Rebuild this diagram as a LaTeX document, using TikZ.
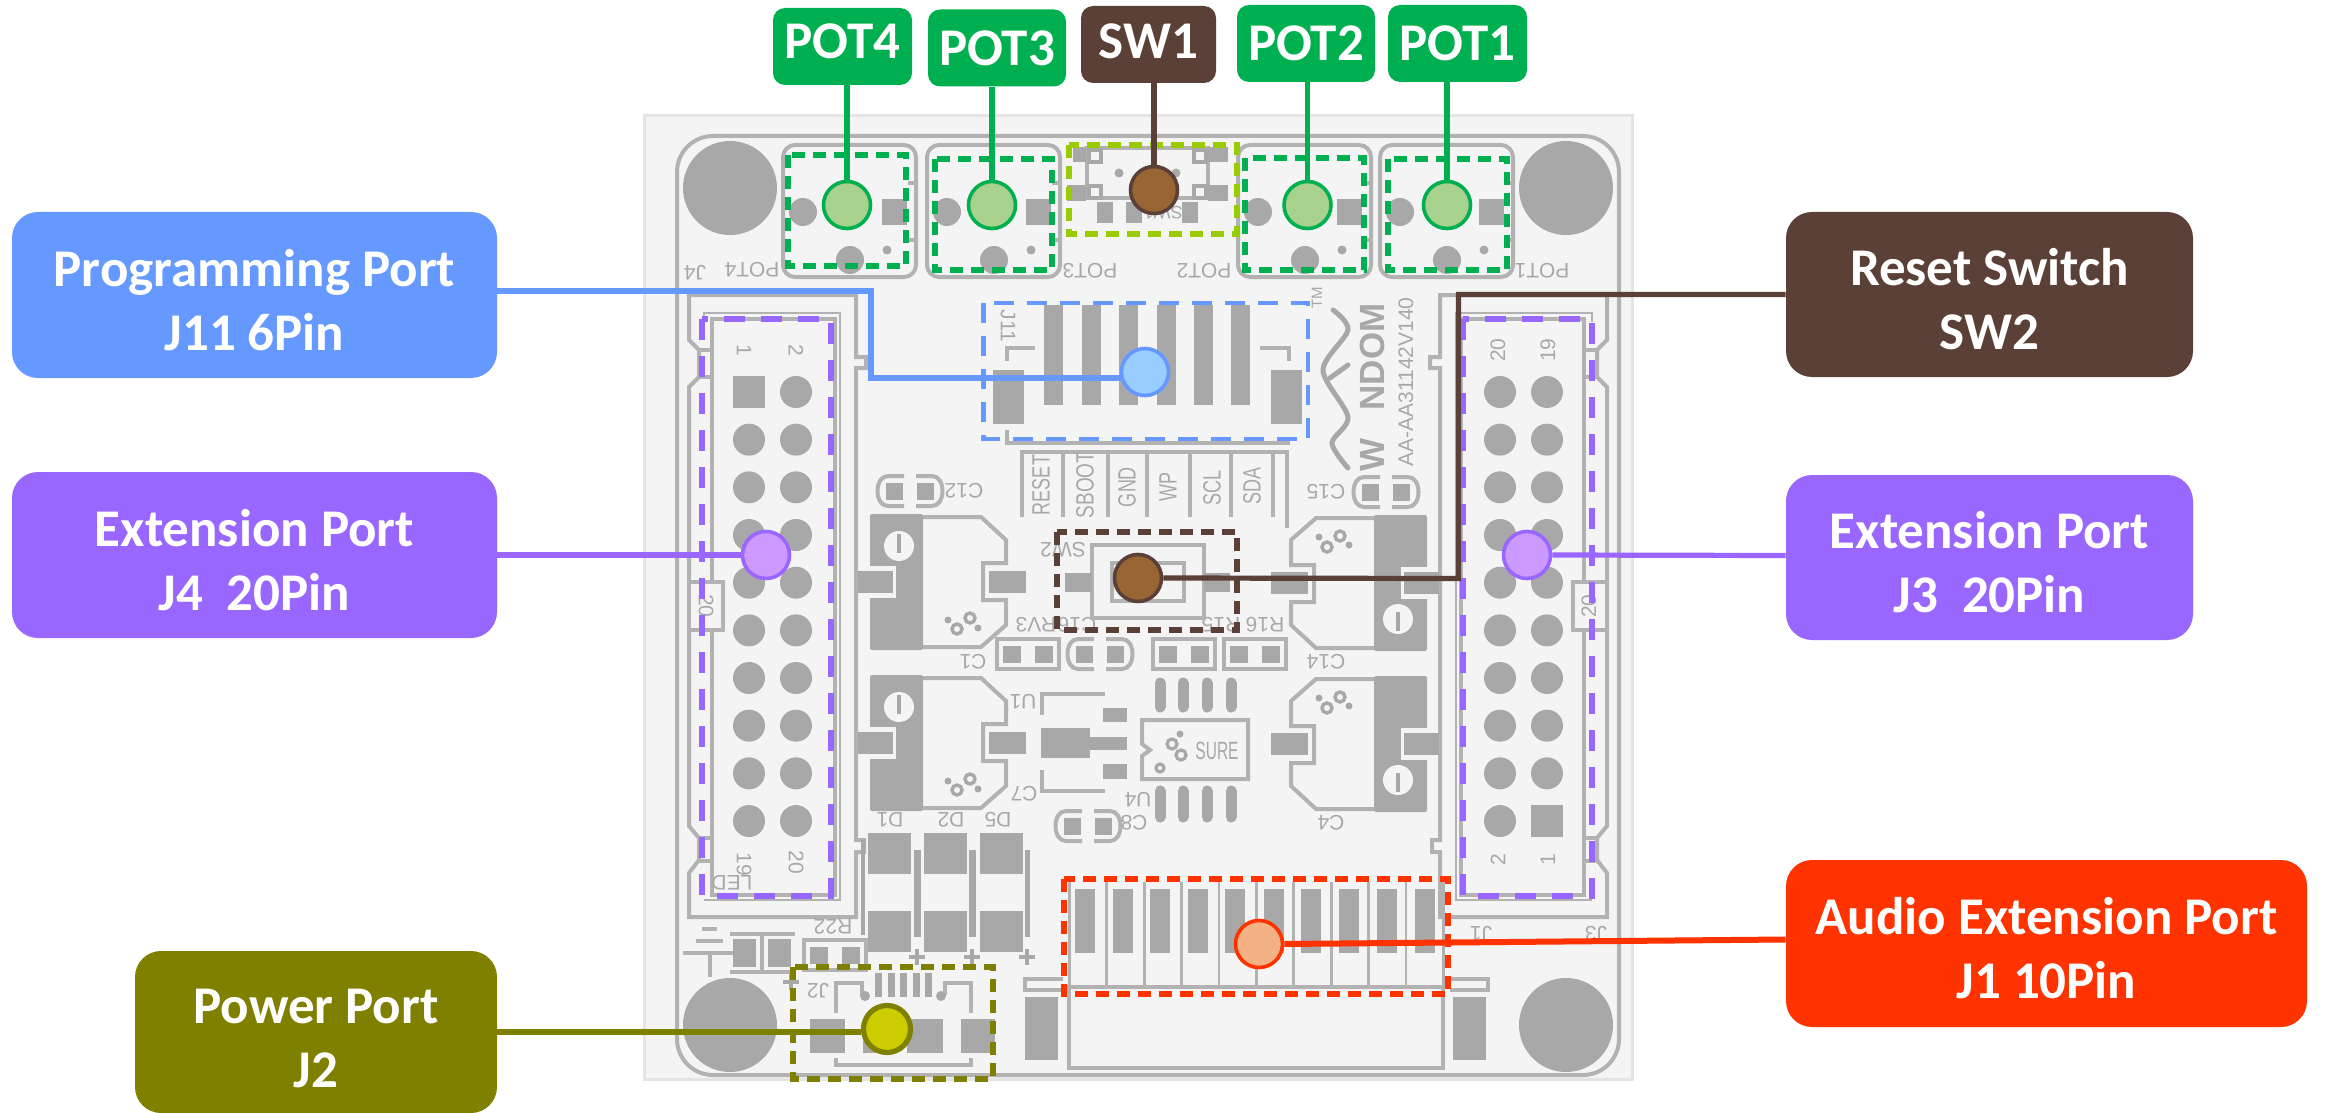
\documentclass[tikz,border=0pt]{standalone}
\usepackage{graphicx}
\usepackage{fontspec}
\setmainfont{Carlito}
\newfontfamily\silkf{Liberation Sans}
\definecolor{bgc}{HTML}{F4F4F4}
\definecolor{pcb}{HTML}{A8A8A8}
\definecolor{pcbl}{HTML}{B2B2B2}
\definecolor{brd}{HTML}{E4E4E4}
\definecolor{cgreen}{HTML}{00B050}
\definecolor{cbrown}{HTML}{5B4038}
\definecolor{cblue}{HTML}{6699FF}
\definecolor{cpurp}{HTML}{9966FF}
\definecolor{cred}{HTML}{FF3300}
\definecolor{colive}{HTML}{808000}
\definecolor{clime}{HTML}{99CC00}
\definecolor{dgreenf}{HTML}{A9D18E}
\definecolor{dbrownf}{HTML}{996633}
\definecolor{dbluef}{HTML}{99CCFF}
\definecolor{dpurpf}{HTML}{CC99FF}
\definecolor{dredf}{HTML}{F4B183}
\definecolor{dyelf}{HTML}{CCCC00}
\newcounter{sk}
\newcommand\Up{\rule{0pt}{23.5pt}}
\tikzset{
  x=0.5pt,y=-0.5pt,
  lab/.style={rounded corners=13pt,text=white,inner sep=0pt,align=center,anchor=center,
    font=\fontsize{26.5}{32}\selectfont\bfseries},
  lline/.style={pcbl,line width=2pt},
  tline/.style={pcbl,line width=1.4pt},
  silk/.style={text=pcb,inner sep=0pt,font=\silkf\fontsize{10.5}{10.5}\selectfont},
  strip/.style={font=\silkf\fontsize{12.5}{12.5}\selectfont},
  dbox/.style={dash pattern=on 6.5pt off 4pt,line width=2.7pt},
  dlong/.style={dash pattern=on 10.5pt off 8pt,line width=2.7pt},
  dotn/.style={circle,minimum size=23.5pt,inner sep=0pt,line width=1.8pt},
  conn/.style={line width=2.6pt},
  tlab/.style={lab,rounded corners=6pt,minimum height=38.5pt},
  dgreen/.style={dotn,draw=cgreen,fill=dgreenf},
}
\newcommand\Sk[5][]{\stepcounter{sk}\node[silk,rotate=#4,name=silk\arabic{sk},#1] at (#2,#3) {#5};}
\newcommand\BCap[2]{%
 \fill[pcb] ({#1-24},{#2-8.5}) rectangle ({#1-7},{#2+8.5});
 \fill[pcb] ({#1+7},{#2-8.5}) rectangle ({#1+24},{#2+8.5});
 \draw[lline] ({#1-6},{#2-15}) -- ({#1-22},{#2-15}) .. controls ({#1-36},{#2-15}) and ({#1-36},{#2+15}) .. ({#1-22},{#2+15}) -- ({#1-6},{#2+15});
 \draw[lline] ({#1+6},{#2-15}) -- ({#1+22},{#2-15}) .. controls ({#1+36},{#2-15}) and ({#1+36},{#2+15}) .. ({#1+22},{#2+15}) -- ({#1+6},{#2+15});
}
\newcommand\BRes[2]{%
 \draw[lline] ({#1-31},{#2-15}) rectangle ({#1+31},{#2+15});
 \fill[pcb] ({#1-25},{#2-8.5}) rectangle ({#1-7},{#2+8.5});
 \fill[pcb] ({#1+7},{#2-8.5}) rectangle ({#1+25},{#2+8.5});
}
\newcommand\BReg{%
 \fill[pcb,rounded corners=1pt] (870,514) rectangle (923,650);
 \fill[bgc] (868,566) rectangle (896,598);
 \fill[pcb] (858,571) rectangle (893,593);
 \fill[pcb] (989,571) rectangle (1026,593);
 \draw[lline] (923,517) -- (981,517) -- (1006,540) -- (1006,563) -- (983,563) -- (983,600) -- (1006,600) -- (1006,625) -- (981,647) -- (923,647);
 \fill[bgc] (899,546) circle (15);
 \fill[pcb] (897,534) rectangle (901,553);
 \draw[pcb,line width=1.7pt] (970,618) circle (5);
 \draw[pcb,line width=1.7pt] (957,629) circle (5);
 \fill[pcb] (948,620) circle (3.5);
 \fill[pcb] (978,628) circle (3.5);
}
\newcommand\BShell{%
 \draw[lline] (689,295) -- (689,340) -- (699,350) -- (699,377) -- (689,387) -- (689,826) -- (699,838) -- (699,860) -- (689,873) -- (689,917) -- (856,917) -- (856,852) -- (864,852) -- (864,840) -- (856,840) -- (856,368) -- (866,368) -- (866,357) -- (856,357) -- (856,295) -- cycle;
 \draw[lline] (712,319) rectangle (835,895);
 \draw[tline] (704,322) |- (840,313) -- (840,900) -- (704,900);
 \draw[lline] (699,350) -- (712,350) (699,377) -- (712,377) (699,838) -- (712,838) (699,861) -- (712,861);
 \filldraw[fill=bgc,draw=pcbl,line width=2pt] (689,582) rectangle (723,630);
 \foreach \i in {0,...,9} {
   \fill[pcb] (749,{392+47.67*\i}) circle (16);
   \fill[pcb] (796,{392+47.67*\i}) circle (16);
 }
}
\begin{document}
\begin{tikzpicture}
\useasboundingbox (0,0) rectangle (2326,1113);
\fill[white] (0,0) rectangle (2326,1113);
% board
\filldraw[fill=bgc,draw=brd,line width=1.5pt] (644,116) rectangle (1632,1079);
\draw[lline,rounded corners=18pt] (677,136) rectangle (1619,1075);
\foreach \x in {730,1566} \foreach \y in {188,1025} \fill[pcb] (\x,\y) circle (47);
% pots
\foreach \d in {0,144,455,597} {
  \draw[lline,rounded corners=6pt] ({783+\d},145) rectangle ({916+\d},277);
  \fill[pcb] ({803+\d},212) circle (14);
  \fill[pcb] ({882+\d},199) rectangle ({907+\d},225);
  \fill[pcb] ({850+\d},260) circle (14);
  \fill[pcb] ({887+\d},250) circle (4.5);
  \draw[lline] ({908+\d},183) -- ({916+\d},183);
  \draw[lline] ({908+\d},240) -- ({916+\d},240);
}
\Sk{752}{270}{180}{POT4}
\Sk{695}{273}{180}{J4}
\Sk{1090}{271}{180}{POT3}
\Sk{1204}{271}{180}{POT2}
\Sk{1542}{271}{180}{POT1}
% SW1 footprint
\draw[lline] (1087,148) rectangle (1208,198);
\fill[pcb] (1073,147) rectangle (1086,162);
\fill[pcb] (1208,147) rectangle (1228,162);
\fill[pcb] (1067,185) rectangle (1086,201);
\fill[pcb] (1208,185) rectangle (1228,201);
\foreach \x/\y in {1095/156,1200/156,1095/192,1200/192} \filldraw[fill=bgc,draw=pcb,line width=1.6pt] ({\x-6},{\y-6}) rectangle ({\x+6},{\y+6});
\fill[pcb] (1097,202) rectangle (1113,223);
\fill[pcb] (1126,202) rectangle (1142,223);
\fill[pcb] (1182,202) rectangle (1198,223);
\fill[pcb] (1119,173) circle (4.5);
\fill[pcb] (1176,173) circle (4.5);
\Sk[font=\silkf\fontsize{9}{9}\selectfont]{1163}{213}{180}{SW1}
% J11 footprint
\foreach \x in {1053,1091,1128,1166,1203,1240} \fill[pcb] ({\x-9.5},305) rectangle ({\x+9.5},405);
\fill[pcb] (993,370) rectangle (1024,424);
\fill[pcb] (1271,370) rectangle (1302,424);
\draw[lline] (1035,348) -- (1007,348) -- (1007,361);
\draw[lline] (1260,348) -- (1289,348) -- (1289,361);
\draw[lline] (1007,430) -- (1007,443) -- (1290,443);
\Sk{1008}{326}{-90}{J11}
% headers
\BShell
\begin{scope}[shift={(2296,0)},xscale=-1]
\BShell
\end{scope}
\fill[bgc] (730,373) rectangle (768,411);
\fill[pcb] (733,376) rectangle (765,408);
\fill[bgc] (1528,802) rectangle (1566,840);
\fill[pcb] (1531,805) rectangle (1563,837);
\Sk{706}{606}{-90}{20}
\Sk{1589}{606}{90}{20}
\Sk{744}{350}{-90}{1}
\Sk{796}{350}{-90}{2}
\Sk{744}{864}{-90}{19}
\Sk{796}{862}{-90}{20}
\Sk{732}{883}{180}{LED}
\Sk{1498}{350}{90}{20}
\Sk{1548}{350}{90}{19}
\Sk{1498}{860}{90}{2}
\Sk{1548}{860}{90}{1}
\Sk{1481}{934}{180}{J1}
\Sk{1596}{934}{180}{J3}
% logo
\Sk[font=\silkf\bfseries\fontsize{17.5}{17.5}\selectfont]{1372}{357}{90}{NDOM}
\Sk[font=\silkf\bfseries\fontsize{17.5}{17.5}\selectfont]{1372}{455}{90}{W}
\draw[pcb,line width=2.5pt,line cap=round] plot[smooth] coordinates {(1333,310) (1348,330) (1323,370) (1348,417) (1332,443) (1348,468)};
\draw[pcb,line width=2.5pt,line cap=round] (1348,365) -- (1330,378);
\Sk[font=\silkf\fontsize{7.5}{7.5}\selectfont]{1317}{298}{90}{TM}
\Sk{1406}{382}{90}{AA-AA31142V140}
% pin strip
\draw[lline] (1022,517) -- (1022,452) -- (1287,452) -- (1287,528);
\foreach \x in {1063,1108,1147,1190,1231,1273} \draw[lline] (\x,452) -- (\x,517);
\Sk[strip]{1041}{485}{90}{\scalebox{.72}[1]{RESET}}
\Sk[strip]{1085}{485}{90}{\scalebox{.76}[1]{SBOOT}}
\Sk[strip]{1127}{487}{90}{\scalebox{.72}[1]{GND}}
\Sk[strip]{1168}{487}{90}{\scalebox{.72}[1]{WP}}
\Sk[strip]{1212}{488}{90}{\scalebox{.72}[1]{SCL}}
\Sk[strip]{1252}{486}{90}{\scalebox{.72}[1]{SDA}}
% caps
\BCap{1386}{492} \Sk{1326}{492}{180}{C15}
\BCap{910}{491} \Sk{964}{491}{180}{C12}
\BCap{1088}{826} \Sk{1134}{823}{180}{C8}
\BCap{1100}{654} \Sk{1077}{625}{180}{C16}
% regulators
\BReg
\begin{scope}[yshift=-80.5pt]\BReg\end{scope}
\begin{scope}[rotate around={180:(1148.5,582.5)}]\BReg\end{scope}
\begin{scope}[rotate around={180:(1148.5,743.5)}]\begin{scope}[yshift=-80.5pt]\BReg\end{scope}\end{scope}
\Sk{973}{662}{180}{C1}
\Sk{1024}{794}{180}{C7}
\Sk{1326}{662}{180}{C14}
\Sk{1331}{823}{180}{C4}
% resistors
\BRes{1028}{654} \Sk{1036}{625}{180}{RV3}
\BRes{1184}{654} \Sk{1221}{625}{180}{R15}
\BRes{1255}{654} \Sk{1265}{625}{180}{R16}
\BRes{835}{955} \Sk{833}{927}{180}{R22}
% SW2
\draw[lline] (1092,545) rectangle (1204,618);
\draw[lline] (1112,563) rectangle (1184,601);
\fill[pcb] (1065,573) rectangle (1092,592);
\fill[pcb] (1204,573) rectangle (1230,592);
\Sk{1063}{550}{180}{SW2}
% U1
\fill[pcb] (1041,728) rectangle (1090,758);
\fill[pcb] (1090,737) rectangle (1127,750);
\fill[pcb] (1103,708) rectangle (1127,722);
\fill[pcb] (1103,764) rectangle (1127,779);
\draw[lline] (1042,715) -- (1042,694) -- (1105,694);
\draw[lline] (1042,770) -- (1042,791) -- (1105,791);
\Sk{1023}{702}{180}{U1}
% U4
\foreach \x in {1160,1183,1207,1231} {
  \draw[pcb,line width=5.5pt,line cap=round] (\x,683) -- (\x,707);
  \draw[pcb,line width=5.5pt,line cap=round] (\x,791) -- (\x,817);
}
\draw[lline] (1142,720) -- (1248,720) -- (1248,779) -- (1142,779) -- (1142,756) -- (1150,750) -- (1142,744) -- cycle;
\Sk[strip]{1217}{751}{0}{\scalebox{.62}[1]{SURE}}
\draw[pcb,line width=1.6pt] (1172,744) circle (5);
\draw[pcb,line width=1.6pt] (1181,755) circle (5);
\draw[pcb,line width=1.6pt] (1160,768) circle (4);
\fill[pcb] (1180,734) circle (3.5);
\Sk{1138}{800}{180}{U4}
% diodes
\foreach \x in {868,924,980} {
  \fill[pcb] (\x,833) rectangle ({\x+43},874);
  \fill[pcb] (\x,911) rectangle ({\x+43},952);
}
\draw[pcb,line width=3.5pt] (917,850) -- (917,937);
\draw[pcb,line width=3.5pt] (972,850) -- (972,937);
\draw[pcb,line width=2.5pt] (1027,850) -- (1027,937);
\draw[pcb,line width=2pt] (863,840) -- (863,935);
\foreach \x/\y in {917/957,972/957,1027/957,791/982} {
  \draw[pcb,line width=1.8pt] ({\x-8},\y) -- ({\x+8},\y) (\x,{\y-8}) -- (\x,{\y+8});
}
\Sk{890}{820}{180}{D1}
\Sk{951}{820}{180}{D2}
\Sk{998}{820}{180}{D5}
% J1
\foreach \x in {1085,1123,1160,1198,1235,1274,1311,1349,1387,1425} \fill[pcb] ({\x-10},889) rectangle ({\x+10},953);
\foreach \i in {0,...,10} \draw[tline] ({1069.4+37.4*\i},882) -- ({1069.4+37.4*\i},987);
\draw[lline] (1069,987) rectangle (1443,1068);
\fill[pcb] (1025,997) rectangle (1058,1060);
\fill[pcb] (1453,997) rectangle (1486,1060);
\draw[lline] (1063,979) -- (1025,979) -- (1025,990) -- (1063,990);
\draw[lline] (1450,979) -- (1488,979) -- (1488,990) -- (1450,990);
% J2
\fill[pcb] (810,1019) rectangle (845,1053);
\fill[pcb] (863,1019) rectangle (895,1053);
\fill[pcb] (907,1019) rectangle (943,1053);
\fill[pcb] (961,1019) rectangle (995,1053);
\foreach \x in {878,891,903,916,928} \fill[pcb] ({\x-3.5},973) rectangle ({\x+3.5},997);
\draw[lline] (836,1013) -- (836,983) -- (862,983) -- (862,995);
\draw[lline] (971,1013) -- (971,983) -- (945,983) -- (945,995);
\draw[lline] (836,1058) -- (836,1065) -- (971,1065) -- (971,1058);
\fill[pcb] (865,996) circle (5);
\fill[pcb] (941,996) circle (5);
\Sk{818}{991}{180}{J2}
% power symbol
\draw[lline] (702,929) -- (717,929) (696,941) -- (723,941) (683,953) -- (733,953) (710,953) -- (710,977);
\fill[pcb] (733,939) rectangle (756,967);
\fill[pcb] (768,939) rectangle (791,967);
\draw[lline] (730,934) -- (795,934) (730,972) -- (795,972) (762,934) -- (762,972);
% dashed boxes
\draw[cgreen,dbox] (788,155) rectangle (906,266);
\draw[cgreen,dbox] (935,159) rectangle (1052,270);
\draw[cgreen,dbox] (1245,158) rectangle (1364,270);
\draw[cgreen,dbox] (1388,159) rectangle (1507,270);
\draw[clime,dbox] (1069,145) rectangle (1237,234);
\draw[cblue,dash pattern=on 10pt off 6.5pt,line width=2.3pt] (983.5,303) rectangle (1308,439);
\draw[cpurp,dlong] (702,319) rectangle (831,896);
\draw[cpurp,dlong] (1463,319) rectangle (1592,896);
\draw[cbrown,dbox] (1057,532) rectangle (1237,630);
\draw[cred,dbox] (1064,879) rectangle (1448,994);
\draw[colive,dbox] (793,967) rectangle (993,1079);
% labels
\node[lab,fill=cblue,minimum width=242.5pt,minimum height=83pt] (prog) at (254.5,295) {\Up Programming Port\\J11 6Pin};
\node[lab,fill=cpurp,minimum width=242.5pt,minimum height=83pt] (extf) at (254.5,555) {\Up Extension Port\\J4\ \ 20Pin};
\node[lab,fill=cpurp,minimum width=203.5pt,minimum height=82.5pt] (extt) at (1989.5,557.5) {\Up Extension Port\\J3\ \ 20Pin};
\node[lab,fill=cbrown,minimum width=203.5pt,minimum height=82.5pt] (reset) at (1989.5,294.5) {\Up Reset Switch\\SW2};
\node[lab,fill=cred,minimum width=260.5pt,minimum height=83.5pt] (audio) at (2046.5,943.5) {\Up Audio Extension Port\\J1 10Pin};
\node[lab,fill=colive,minimum width=181pt,minimum height=81pt] (power) at (316,1032) {\Up Power Port\\J2};
\node[tlab,fill=cgreen,minimum width=69.5pt,text depth=5pt] (ptf) at (842.5,46.5) {POT4};
\node[tlab,fill=cgreen,minimum width=69pt] (ptt) at (997,48) {POT3};
\node[tlab,fill=cbrown,minimum width=67.5pt,text depth=3pt] (swa) at (1148.5,44.5) {SW1};
\node[tlab,fill=cgreen,minimum width=69pt] (ptb) at (1306,43.5) {POT2};
\node[tlab,fill=cgreen,minimum width=69.5pt] (pta) at (1457.5,43.5) {POT1};
% target dots
\node[dgreen] (dptf) at (847,205) {};
\node[dgreen] (dptt) at (992,205) {};
\node[dgreen] (dptb) at (1307.5,205) {};
\node[dgreen] (dpta) at (1447,205) {};
\node[dotn,draw=cbrown,fill=dbrownf] (dswa) at (1154,190) {};
\node[dotn,draw=cbrown,fill=dbrownf] (dswb) at (1138,578) {};
\node[dotn,draw=cblue,fill=dbluef] (dprog) at (1145,372) {};
\node[dotn,draw=cpurp,fill=dpurpf] (dextf) at (766,555) {};
\node[dotn,draw=cpurp,fill=dpurpf] (dextt) at (1527,555) {};
\node[dotn,draw=cred,fill=dredf] (daud) at (1259,944) {};
\node[dotn,draw=colive,fill=dyelf,line width=2.6pt] (dpow) at (887,1029) {};
% connectors
\draw[cgreen,conn] (dptf.north |- ptf.south) -- (dptf.north);
\draw[cgreen,conn] (dptt.north |- ptt.south) -- (dptt.north);
\draw[cgreen,conn] (dptb.north |- ptb.south) -- (dptb.north);
\draw[cgreen,conn] (dpta.north |- pta.south) -- (dpta.north);
\draw[cbrown,conn] (dswa.north |- swa.south) -- (dswa.north);
\coordinate (pba) at (871,291);
\coordinate (pbb) at (871,378);
\draw[cblue,conn,line width=3pt] ([yshift=2pt]prog.east) -- (pba) -- (pbb) -- ([yshift=-3pt,xshift=.5pt]dprog.west);
\draw[cpurp,conn] (extf.east) -- (dextf.west);
\draw[cpurp,conn] ([yshift=1pt]extt.west) -- (dextt.east);
\coordinate (rba) at (1458.5,578.5);
\draw[cbrown,conn] (reset.west) -| (rba) -- (dswb.east);
\draw[cred,conn,line width=3pt] ([yshift=2pt]audio.west) -- (daud.east);
\draw[colive,conn] (power.east) -- ([yshift=-1.5pt]dpow.west);
\end{tikzpicture}
\end{document}
